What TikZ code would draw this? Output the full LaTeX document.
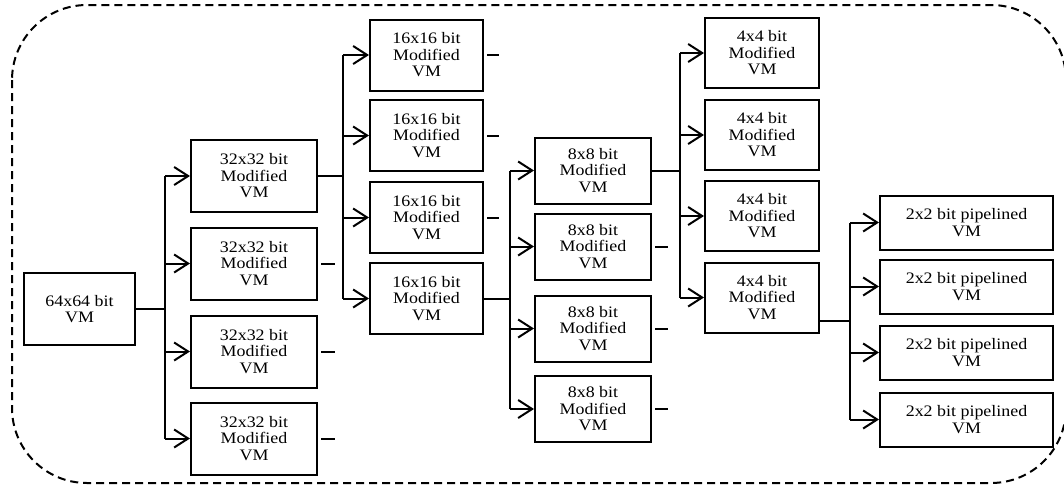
\documentclass[tikz,border=0pt]{standalone}
\usepackage{fontspec}
\setmainfont{Liberation Serif}[FakeStretch=1.12]
\usetikzlibrary{arrows.meta,positioning}

\begin{document}
\begin{tikzpicture}[x=1pt,y=-1pt,line width=2pt,>={Straight Barb[length=14pt,width=18pt]},
  font=\fontsize{16}{16.5}\selectfont,
  blk/.style 2 args={draw,align=center,inner sep=0pt,minimum width=#1,minimum height=#2},
  stub/.style={shorten <=3pt}]
  \useasboundingbox (0,0) rectangle (1064,485);
  \draw[line width=2pt,dash pattern=on 8pt off 5pt,rounded corners=75pt] (12,5) rectangle (1066,483);
  % multiplier blocks
  \node[blk={111pt}{72pt}] (in) at (79.5,309) {64x64 bit\\VM};
  \foreach \i/\y in {1/176,2/263.5,3/351.5,4/438.5}
    \node[blk={126pt}{72pt}] (a\i) at (254,\y) {32x32 bit\\Modified\\VM};
  \foreach \i/\y in {1/55,2/135.5,3/217.5,4/298.5}
    \node[blk={113pt}{71pt}] (b\i) at (426.5,\y) {16x16 bit\\Modified\\VM};
  \foreach \i/\y in {1/170.5,2/246.5,3/328.5,4/409}
    \node[blk={116pt}{66pt}] (c\i) at (593,\y) {8x8 bit\\Modified\\VM};
  \foreach \i/\y in {1/53,2/135,3/216,4/297.5}
    \node[blk={114pt}{70pt}] (d\i) at (762,\y) {4x4 bit\\Modified\\VM};
  \foreach \i/\y in {1/222.5,2/286.5,3/352.5,4/419.5}
    \node[blk={173pt}{54pt}] (e\i) at (966.5,\y) {2x2 bit pipelined\\VM};
  % junctions
  \coordinate (j1) at (165,309);
  \coordinate (j2) at (343,176);
  \coordinate (j3) at (510,298.5);
  \coordinate (j4) at (680,170.5);
  \coordinate (j5) at (850,321);
  \draw (in.east) -- (j1);
  \draw (a1.east) -- (j2);
  \draw (b4.east) -- (j3);
  \draw (c1.east) -- (j4);
  \draw ([yshift=-23.5pt]d4.east) -- (j5);
  \draw (j1 |- a1) -- (j1 |- a4);
  \draw (j2 |- b1) -- (j2 |- b4);
  \draw (j3 |- c1) -- (j3 |- c4);
  \draw (j4 |- d1) -- (j4 |- d4);
  \draw (j5 |- e1) -- (j5 |- e4);
  \foreach \i in {1,...,4} {
    \draw[->] (j1 |- a\i) -- (a\i.west);
    \draw[->] (j2 |- b\i) -- (b\i.west);
    \draw[->] (j3 |- c\i) -- (c\i.west);
    \draw[->] (j4 |- d\i) -- (d\i.west);
    \draw[->] (j5 |- e\i) -- (e\i.west);
  }
  % unused outputs
  \foreach \i in {2,3,4} {
    \draw[stub] (a\i.east) -- ++(17,0);
    \draw[stub] (c\i.east) -- ++(16,0);
  }
  \foreach \i in {1,2,3}
    \draw[stub] (b\i.east) -- ++(15,0);
\end{tikzpicture}
\end{document}
